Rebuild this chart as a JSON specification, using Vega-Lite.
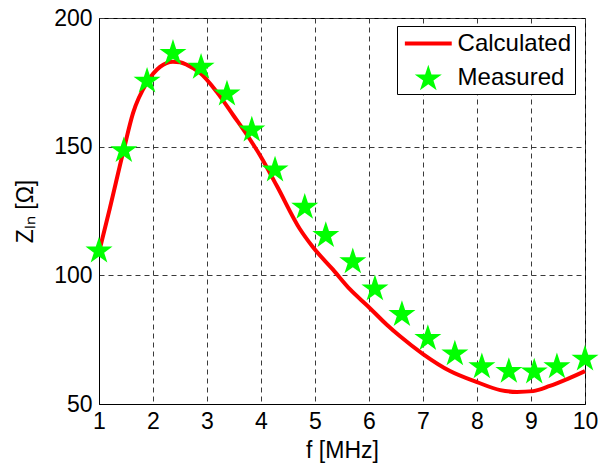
{
  "$schema": "https://vega.github.io/schema/vega-lite/v6.json",
  "width": 486,
  "height": 386,
  "autosize": {"type": "none"},
  "padding": {"left": 99, "top": 18, "right": 15, "bottom": 61},
  "background": "white",
  "config": {
    "view": {"stroke": "black", "strokeWidth": 1},
    "font": "Liberation Sans",
    "axis": {
      "labelFont": "Liberation Sans",
      "titleFont": "Liberation Sans",
      "labelFontSize": 23,
      "titleFontSize": 23,
      "labelColor": "black",
      "titleColor": "black",
      "titleFontWeight": "normal",
      "domainColor": "black",
      "labelFlush": false,
      "labelOverlap": false,
      "ticks": false,
      "grid": true,
      "gridColor": "#3a3a3a",
      "gridDash": [5, 4],
      "gridWidth": 1,
      "gridOpacity": 1
    }
  },
  "datasets": {
    "calc": [
      {"f": 1.0, "z": 109, "series": "Calculated"},
      {"f": 1.2, "z": 126, "series": "Calculated"},
      {"f": 1.46, "z": 149, "series": "Calculated"},
      {"f": 1.63, "z": 163, "series": "Calculated"},
      {"f": 1.89, "z": 175, "series": "Calculated"},
      {"f": 2.13, "z": 181, "series": "Calculated"},
      {"f": 2.37, "z": 183, "series": "Calculated"},
      {"f": 2.5, "z": 182.8, "series": "Calculated"},
      {"f": 2.63, "z": 181.8, "series": "Calculated"},
      {"f": 2.87, "z": 178.7, "series": "Calculated"},
      {"f": 3.19, "z": 171, "series": "Calculated"},
      {"f": 3.48, "z": 162.4, "series": "Calculated"},
      {"f": 3.8, "z": 152.7, "series": "Calculated"},
      {"f": 4.0, "z": 146, "series": "Calculated"},
      {"f": 4.3, "z": 134.5, "series": "Calculated"},
      {"f": 4.72, "z": 118, "series": "Calculated"},
      {"f": 4.96, "z": 111, "series": "Calculated"},
      {"f": 5.33, "z": 102.3, "series": "Calculated"},
      {"f": 5.65, "z": 94.5, "series": "Calculated"},
      {"f": 5.98, "z": 88, "series": "Calculated"},
      {"f": 6.33, "z": 80.8, "series": "Calculated"},
      {"f": 6.57, "z": 76.4, "series": "Calculated"},
      {"f": 7.0, "z": 69.4, "series": "Calculated"},
      {"f": 7.5, "z": 62.8, "series": "Calculated"},
      {"f": 8.0, "z": 58.5, "series": "Calculated"},
      {"f": 8.43, "z": 55.4, "series": "Calculated"},
      {"f": 8.74, "z": 54.7, "series": "Calculated"},
      {"f": 9.04, "z": 55, "series": "Calculated"},
      {"f": 9.35, "z": 57, "series": "Calculated"},
      {"f": 9.67, "z": 59.7, "series": "Calculated"},
      {"f": 10.0, "z": 62.8, "series": "Calculated"}
    ],
    "meas": [
      {"f": 1.0, "z": 110, "series": "Measured"},
      {"f": 1.46, "z": 149, "series": "Measured"},
      {"f": 1.89, "z": 176, "series": "Measured"},
      {"f": 2.37, "z": 186.8, "series": "Measured"},
      {"f": 2.89, "z": 181.4, "series": "Measured"},
      {"f": 3.37, "z": 171, "series": "Measured"},
      {"f": 3.83, "z": 157, "series": "Measured"},
      {"f": 4.26, "z": 141.5, "series": "Measured"},
      {"f": 4.81, "z": 127, "series": "Measured"},
      {"f": 5.2, "z": 116, "series": "Measured"},
      {"f": 5.7, "z": 105.8, "series": "Measured"},
      {"f": 6.11, "z": 95.3, "series": "Measured"},
      {"f": 6.61, "z": 85.3, "series": "Measured"},
      {"f": 7.09, "z": 76, "series": "Measured"},
      {"f": 7.59, "z": 70, "series": "Measured"},
      {"f": 8.09, "z": 65, "series": "Measured"},
      {"f": 8.59, "z": 63.2, "series": "Measured"},
      {"f": 9.06, "z": 63, "series": "Measured"},
      {"f": 9.48, "z": 65, "series": "Measured"},
      {"f": 10.0, "z": 68, "series": "Measured"}
    ]
  },
  "encoding": {
    "x": {
      "field": "f",
      "type": "quantitative",
      "scale": {"domain": [1, 10], "nice": false, "zero": false},
      "axis": {"values": [1, 2, 3, 4, 5, 6, 7, 8, 9, 10], "labelPadding": 6, "titlePadding": 6, "title": "f [MHz]"}
    },
    "y": {
      "field": "z",
      "type": "quantitative",
      "scale": {"domain": [50, 200], "nice": false, "zero": false},
      "axis": {"values": [50, 100, 150, 200], "labelPadding": 7, "titlePadding": 16, "title": "Zₗₙ [Ω]"}
    }
  },
  "layer": [
    {
      "data": {"name": "calc"},
      "mark": {"type": "line", "color": "#ff0000", "strokeWidth": 4, "interpolate": "monotone"}
    },
    {
      "data": {"name": "meas"},
      "mark": {"type": "point", "filled": true, "opacity": 1, "size": 807, "strokeWidth": 0},
      "encoding": {
        "color": {
          "field": "series",
          "type": "nominal",
          "scale": {"domain": ["Calculated", "Measured"], "range": ["#ff0000", "#00ff00"]},
          "legend": {
            "title": null,
            "orient": "none",
            "legendX": 298,
            "legendY": 8,
            "padding": 3,
            "symbolOffset": 13.8,
            "labelOffset": 14.8,
            "rowPadding": 7,
            "symbolSize": 807,
            "symbolStrokeWidth": 0,
            "labelFont": "Liberation Sans",
            "labelFontSize": 24,
            "labelColor": "black",
            "strokeColor": "black",
            "fillColor": "white",
            "cornerRadius": 0
          }
        },
        "shape": {
          "field": "series",
          "type": "nominal",
          "scale": {
            "domain": ["Calculated", "Measured"],
            "range": [
              "M-1.65,-0.14L1.65,-0.14L1.65,0.14L-1.65,0.14Z",
              "M0,-0.905L0.2245,-0.214L0.951,-0.214L0.363,0.213L0.588,0.904L0,0.477L-0.588,0.904L-0.363,0.213L-0.951,-0.214L-0.2245,-0.214Z"
            ]
          }
        }
      }
    }
  ]
}
